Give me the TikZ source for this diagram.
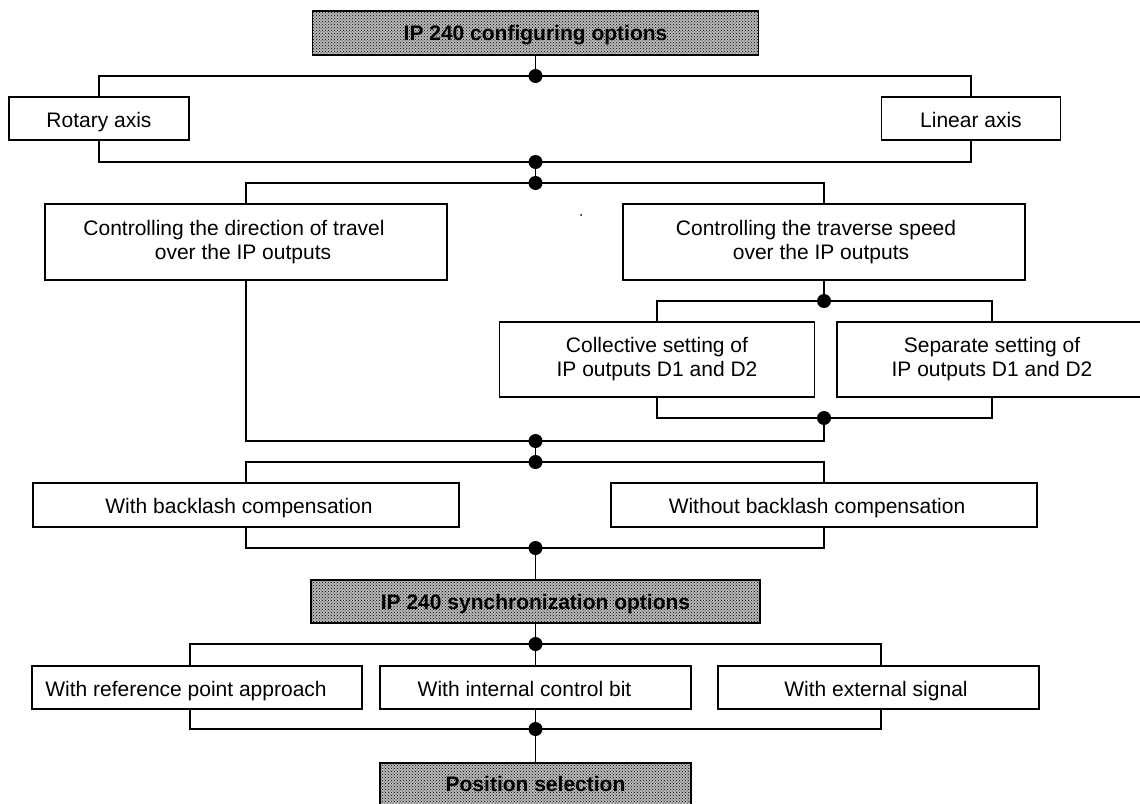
\documentclass[tikz,border=0pt]{standalone}
\usepackage{fontspec}
\setmainfont{Liberation Sans}
\usetikzlibrary{patterns}
\begin{document}
\begin{tikzpicture}[x=1pt,y=-1pt,
  line width=1.4pt,
  box/.style={draw, line width=1.4pt, inner sep=0pt, align=center,
    font=\fontsize{21}{24}\selectfont, fill=white},
  one/.style={text height=20pt, text depth=3pt},
  hdr/.style={draw, line width=1.4pt, inner sep=0pt, align=center,
    font=\bfseries\fontsize{21}{24}\selectfont, text height=19pt, text depth=4pt,
    preaction={fill=black!28}, pattern=crosshatch dots, pattern color=black},
  jdot/.style={fill=black},
]
\useasboundingbox (0,0) rectangle (1140,803);

\node[hdr, minimum width=446pt, minimum height=44pt] (top) at (535.5,33) {IP 240 configuring options};
\node[box, one, minimum width=180pt, minimum height=43pt] (rot) at (99,118.5) {Rotary axis};
\node[box, one, minimum width=179pt, minimum height=43pt] (lin) at (971,118.5) {Linear axis};
\node[box, minimum width=402pt, minimum height=76pt] (dir) at (246,242) {Controlling the direction of travel\hspace*{24pt}\\over the IP outputs\hspace*{6pt}};
\node[box, minimum width=402pt, minimum height=76pt] (trav) at (824,242) {Controlling the traverse speed\hspace*{16pt}\\over the IP outputs\hspace*{6pt}};
\node[box, minimum width=315pt, minimum height=75pt] (coll) at (657,359.5) {Collective setting of\\IP outputs D1 and D2};
\node[box, minimum width=310pt, minimum height=75pt] (sep) at (992,359.5) {Separate setting of\\IP outputs D1 and D2};
\node[box, one, minimum width=426pt, minimum height=44pt] (withb) at (246,505) {With backlash compensation\hspace*{14pt}};
\node[box, one, minimum width=426pt, minimum height=44pt] (wob) at (824,505) {Without backlash compensation\hspace*{14pt}};
\node[hdr, minimum width=449pt, minimum height=43pt] (sync) at (535.5,601.5) {IP 240 synchronization options};
\node[box, one, minimum width=330pt, minimum height=43pt] (ref) at (197,687.5) {With reference point approach\hspace*{22pt}};
\node[box, one, minimum width=311pt, minimum height=43pt] (int) at (535.5,687.5) {With internal control bit\hspace*{22pt}};
\node[box, one, minimum width=321pt, minimum height=43pt] (ext) at (878.5,687.5) {With external signal\hspace*{5pt}};
\node[hdr, minimum width=311pt, minimum height=42pt] (pos) at (535.5,784) {Position selection};

\coordinate (j1) at (535.5,76);
\coordinate (j2) at (535.5,162);
\coordinate (j3) at (535.5,183);
\coordinate (j4) at (824,301);
\coordinate (j5) at (824,418);
\coordinate (j6) at (535.5,441);
\coordinate (j7) at (535.5,462);
\coordinate (j8) at (535.5,548);
\coordinate (j9) at (535.5,644);
\coordinate (j10) at (535.5,729);

\draw (top.south) -- (j1);
\draw (rot.north) |- (j1) -| (lin.north);
\draw (rot.south) |- (j2) -| (lin.south);
\draw (j2) -- (j3);
\draw (dir.north) |- (j3) -| (trav.north);
\draw (trav.south) -- (j4);
\draw (coll.north) |- (j4) -| (sep.north);
\draw (coll.south) |- (j5) -| (sep.south);
\draw (dir.south) |- (j5 |- j6) -- (j5);
\draw (j6) -- (j7);
\draw (withb.north) |- (j7) -| (wob.north);
\draw (withb.south) |- (j8) -| (wob.south);
\draw (j8) -- (sync.north);
\draw (sync.south) -- (j9);
\draw ([xshift=-7pt]ref.north) |- (j9) -| ([xshift=2.5pt]ext.north);
\draw (j9) -- (int.north);
\draw ([xshift=-7pt]ref.south) |- (j10) -| ([xshift=2.5pt]ext.south);
\draw (int.south) -- (j10) -- (pos.north);

\foreach \j in {j1,j2,j3,j4,j5,j6,j7,j8,j9,j10}
  \fill[jdot] (\j) circle (7pt);

\fill (581,215) circle (1pt);
\end{tikzpicture}
\end{document}
